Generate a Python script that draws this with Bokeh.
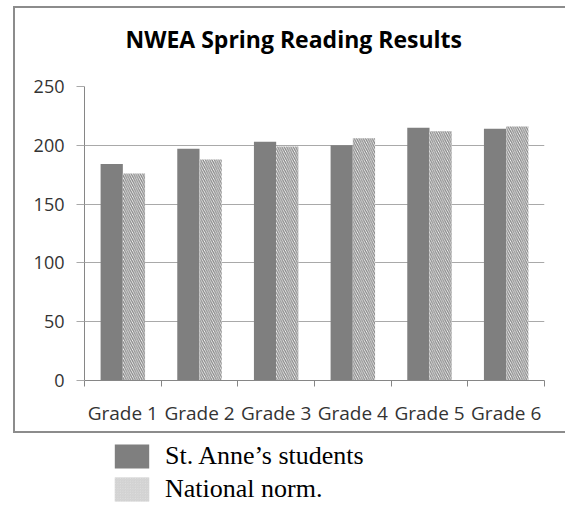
import numpy as np
from bokeh.plotting import figure
from bokeh.models import (Range1d, FixedTicker, Legend, LegendItem,
                          ColumnDataSource, Title)
from bokeh.layouts import column
from bokeh.embed import file_html
from bokeh.resources import INLINE

# ---- data ----
grades = ["Grade 1", "Grade 2", "Grade 3", "Grade 4", "Grade 5", "Grade 6"]
st_anne = [184, 197, 203, 200, 215, 214]
national = [176, 188, 199, 206, 212, 216]
y_ticks = [0, 50, 100, 150, 200, 250]
series_names = ["St. Anne\u2019s students", "National norm."]
title_text = "NWEA Spring Reading Results"

# ---- layout constants ----
W, H = 552, 427
MB_L, MB_R = 69, 23
BAR_W = 0.29
idx = np.arange(len(grades))
src = ColumnDataSource(dict(
    x_a=idx + 0.5 - BAR_W / 2,
    x_n=idx + 0.5 + BAR_W / 2,
    st=st_anne,
    nat=national,
))

AXIS_COL = "#868686"
GRID_COL = "#a9a9a9"
LABEL_COL = "#333333"
BORDER = "2px solid #8c8c8c"

p = figure(width=W, height=H,
           x_range=Range1d(0, len(grades)), y_range=Range1d(0, y_ticks[-1]),
           output_backend="svg", toolbar_location=None,
           min_border_left=MB_L, min_border_right=MB_R,
           min_border_top=78, min_border_bottom=55)
p.margin = (6, 0, 0, 13)
p.styles = {"border-top": BORDER, "border-left": BORDER,
            "border-bottom": BORDER, "border-right": "none"}
p.outline_line_color = None
p.background_fill_color = "white"
p.border_fill_color = "white"

# real title (outermost) + spacer title between it and the frame
p.title.text = title_text
p.title.align = "left"
p.title.offset = 41
p.title.text_font = "Open Sans"
p.title.text_font_style = "bold"
p.title.text_font_size = "23px"
p.title.text_color = "#000000"
p.title.standoff = 0
p.add_layout(Title(text=" ", text_font_size="1px", standoff=29), "above")

# bars
p.vbar(x="x_a", top="st", bottom=0, width=BAR_W, source=src,
       fill_color="#7f7f7f", line_color=None)
p.vbar(x="x_n", top="nat", bottom=0, width=BAR_W, source=src,
       fill_color="white", line_color=None,
       hatch_pattern="left_diagonal_line", hatch_color="#858585",
       hatch_scale=4.5, hatch_weight=1.3)

# x axis: ticks at category boundaries, labels at centres
xax = p.xaxis[0]
xax.ticker = FixedTicker(ticks=[float(i) + 0.5 for i in idx],
                         minor_ticks=[float(i) for i in range(len(grades) + 1)])
xax.major_label_overrides = {float(i) + 0.5: g for i, g in zip(idx, grades)}
xax.major_tick_out = 0
xax.major_tick_in = 0
xax.minor_tick_out = 6
xax.minor_tick_in = 0
xax.minor_tick_line_color = AXIS_COL
xax.axis_line_color = AXIS_COL
xax.major_label_standoff = 13
xax.major_label_text_font = "Open Sans"
xax.major_label_text_font_size = "19px"
xax.major_label_text_color = LABEL_COL

# y axis
yax = p.yaxis[0]
yax.ticker = FixedTicker(ticks=y_ticks, minor_ticks=[])
yax.major_tick_out = 8
yax.major_tick_in = 0
yax.major_tick_line_color = GRID_COL
yax.axis_line_color = AXIS_COL
yax.major_label_standoff = 12
yax.major_label_text_font = "Open Sans"
yax.major_label_text_font_size = "18px"
yax.major_label_text_color = LABEL_COL

p.xgrid.visible = False
p.ygrid.grid_line_color = GRID_COL
p.ygrid.grid_line_width = 1

# ---- legend figure (same horizontal geometry so column frames align) ----
LEG_H = 69
LEG_TOP = 8
GLYPH_H, LEG_SP = 30, 3
leg = figure(width=W, height=LEG_H, output_backend="svg", toolbar_location=None,
             x_range=Range1d(0, 1), y_range=Range1d(0, 1),
             x_axis_location=None, y_axis_location=None,
             min_border_left=MB_L, min_border_top=LEG_TOP,
             min_border_right=MB_R, min_border_bottom=0)
leg.margin = (0, 0, 0, 15)
leg.outline_line_color = None
leg.xgrid.visible = False
leg.ygrid.visible = False
leg_src = ColumnDataSource(dict(x=[-5.0], top=[-5.0]))
r1 = leg.vbar(x="x", top="top", bottom=-6, width=0.1, source=leg_src,
              fill_color="#7f7f7f", line_color=None)
r2 = leg.vbar(x="x", top="top", bottom=-6, width=0.1, source=leg_src,
              fill_color="#e4e4e4", line_color=None,
              hatch_pattern="left_diagonal_line", hatch_color="#d0d0d0",
              hatch_scale=2.5, hatch_weight=1)
leg_height = 2 * GLYPH_H + LEG_SP
legend = Legend(items=[LegendItem(label=series_names[0], renderers=[r1]),
                       LegendItem(label=series_names[1], renderers=[r2])],
                location=(26, LEG_H - LEG_TOP - leg_height),
                glyph_width=43, glyph_height=GLYPH_H,
                spacing=LEG_SP, padding=0, margin=0, label_standoff=12,
                label_height=GLYPH_H,
                label_text_font="Liberation Serif", label_text_font_size="26px",
                label_text_baseline="alphabetic",
                label_text_color="#000000",
                border_line_color=None, background_fill_alpha=0)
leg.add_layout(legend)

layout = column(p, leg, spacing=0)
open("out.html", "w").write(file_html(layout, INLINE))
